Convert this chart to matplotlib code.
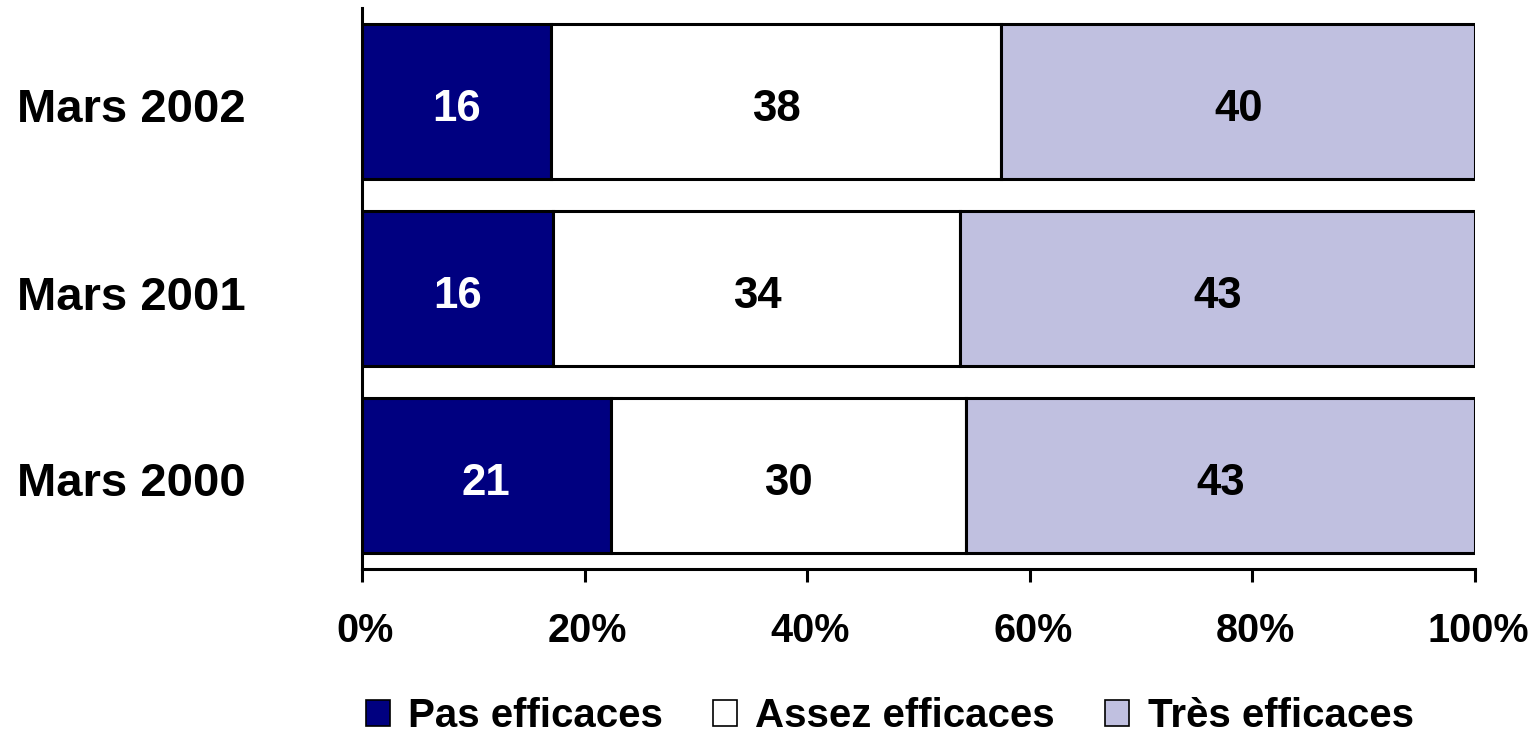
import matplotlib
matplotlib.use("Agg")
import matplotlib.pyplot as plt
import matplotlib.transforms as mtransforms
import numpy as np

categories = ["Mars 2000", "Mars 2001", "Mars 2002"]
series_names = ["Pas efficaces", "Assez efficaces", "Très efficaces"]
pas = [21, 16, 16]
assez = [30, 34, 38]
tres = [43, 43, 40]
colors = ["#000080", "#FFFFFF", "#C0C0E0"]
text_colors = ["white", "black", "black"]
tick_labels = ["0%", "20%", "40%", "60%", "80%", "100%"]

plt.rcParams['font.family'] = ['Liberation Sans', 'DejaVu Sans']
plt.rcParams['font.weight'] = 'bold'

fig = plt.figure(figsize=(15.39, 7.33), dpi=100)
ax = fig.add_axes([362/1539, 1-569/733, (1475-362)/1539, (569-8)/733])

data = np.array([pas, assez, tres], dtype=float)
totals = data.sum(axis=0)
frac = data / totals
y = np.arange(len(categories))
left = np.zeros(len(categories))
for i, name in enumerate(series_names):
    ax.barh(y, frac[i], left=left, height=0.83, color=colors[i],
            edgecolor="black", linewidth=2.2, label=name)
    for j in range(len(categories)):
        ax.text(left[j] + frac[i][j]/2, y[j] - 0.045, f"{int(data[i][j])}",
                ha="center", va="center", fontsize=31.5, fontweight="bold",
                color=text_colors[i])
    left += frac[i]

ax.set_xlim(0, 1)
ax.set_ylim(-0.5, 2.5)
ax.set_yticks(y)
ax.set_yticklabels(categories, fontsize=34, fontweight="bold")
ax.tick_params(axis="y", length=0, pad=166)
shift_y = mtransforms.ScaledTranslation(0, -4/100, fig.dpi_scale_trans)
for lab in ax.get_yticklabels():
    lab.set_horizontalalignment("center")
    lab.set_transform(lab.get_transform() + shift_y)
ax.set_xticks(np.linspace(0, 1, 6))
ax.set_xticklabels(tick_labels, fontsize=28.5, fontweight="bold")
ax.tick_params(axis="x", length=9, width=2.2, pad=22, direction="out")
shift_x = mtransforms.ScaledTranslation(3/100, 0, fig.dpi_scale_trans)
for lab in ax.get_xticklabels():
    lab.set_transform(lab.get_transform() + shift_x)
for s in ["top", "right"]:
    ax.spines[s].set_visible(False)
for s in ["left", "bottom"]:
    ax.spines[s].set_linewidth(2.2)

leg = fig.legend(loc="center", bbox_to_anchor=(0.578, 1-716/733), ncol=3,
                 frameon=False, handlelength=0.6, handleheight=0.6,
                 handletextpad=0.45, columnspacing=1.25, borderpad=0.2,
                 prop={'weight': 'bold', 'size': 29})
for h in leg.legend_handles:
    h.set_linewidth(1.2)

fig.savefig("out.png", dpi=100)
